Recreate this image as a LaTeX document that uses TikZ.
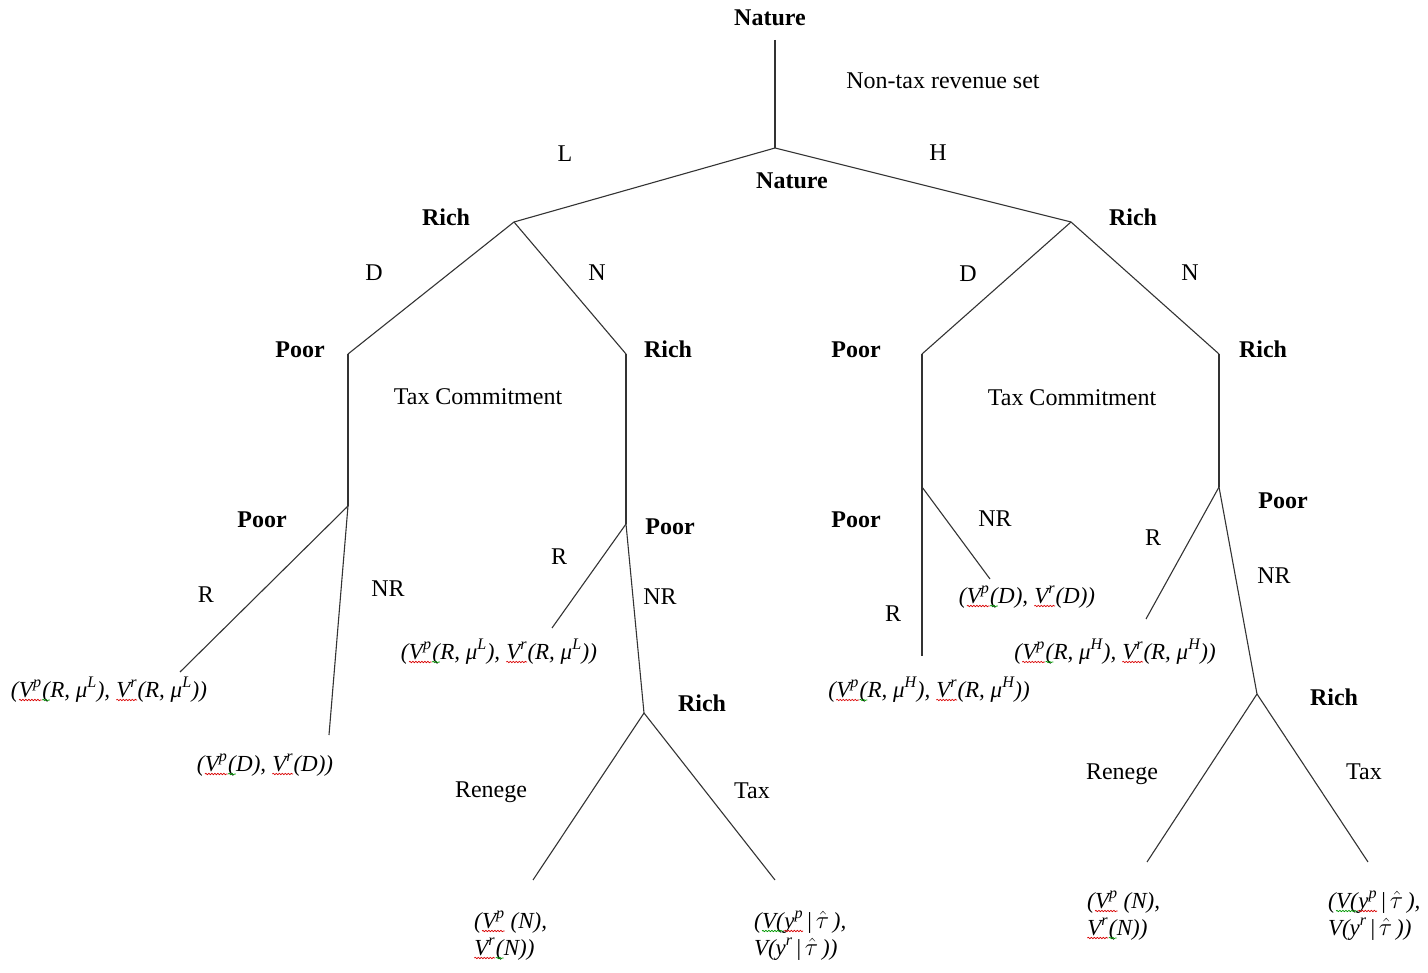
\documentclass[tikz,border=0pt]{standalone}
\usepackage{fontspec}
\setmainfont{Liberation Serif}
\usetikzlibrary{decorations.pathmorphing}

% wavy proofing underline beneath a piece of text
\newcommand\wavyline[2]{\tikz[baseline=(w.base),x=1cm,y=1cm]{%
  \node[inner sep=0pt,outer sep=0pt,anchor=base] (w) {#2};%
  \draw[#1,line width=0.7pt,decorate,decoration={snake,amplitude=0.7pt,segment length=3pt}]
    ([yshift=-3pt]w.base west) -- ([yshift=-3pt]w.base east);}}
\newcommand\rw[1]{\wavyline{red!85!black}{#1}}
\newcommand\gw[1]{\wavyline{green!60!black}{#1}}
\newcommand\sps[1]{\textsuperscript{#1}}
\newcommand\that{\,$\hat{\tau}$\,}

\begin{document}
\begin{tikzpicture}[x=1pt,y=-1pt,
  txt/.style={inner sep=0pt,outer sep=0pt,anchor=base,font=\fontsize{24}{26}\selectfont},
  player/.style={txt,font=\fontsize{24}{26}\selectfont\bfseries},
  pay/.style={txt,font=\fontsize{23}{27}\selectfont\itshape},
  paylines/.style={pay,anchor=base west,align=left},
  branch/.style={line width=1.1pt,draw=black!80}]
\useasboundingbox (0,0) rectangle (1428,973);

% decision points
\coordinate (top) at (775,40);
\coordinate (nat) at (775,148);
\coordinate (richL) at (514,222);
\coordinate (richR) at (1071,222);
\coordinate (poorLD) at (348,354);
\coordinate (richLN) at (626,354);
\coordinate (poorRD) at (922,354);
\coordinate (richRN) at (1219,354);
\coordinate (poorLDc) at (348,506);
\coordinate (poorLNc) at (626,524);
\coordinate (poorRDc) at (922,487);
\coordinate (poorRNc) at (1219,487);
\coordinate (richLt) at (644,713);
\coordinate (richRt) at (1257,694);

% terminal ends
\coordinate (eLR) at (180,672);
\coordinate (eLNR) at (329,735);
\coordinate (eNR) at (552,628);
\coordinate (eLren) at (533,880);
\coordinate (eLtax) at (775,880);
\coordinate (eRNR) at (990,579);
\coordinate (eRR) at (922,656);
\coordinate (eRNr) at (1146,619);
\coordinate (eRren) at (1147,862);
\coordinate (eRtax) at (1368,862);

% branches
\draw[branch] (top) -- (nat);
\draw[branch] (nat) -- (richL);
\draw[branch] (nat) -- (richR);
\draw[branch] (richL) -- (poorLD);
\draw[branch] (richL) -- (richLN);
\draw[branch] (richR) -- (poorRD);
\draw[branch] (richR) -- (richRN);
\draw[branch] (poorLD) -- (poorLDc);
\draw[branch] (richLN) -- (poorLNc);
\draw[branch] (poorRD) -- (poorRDc);
\draw[branch] (richRN) -- (poorRNc);
\draw[branch] (poorLDc) -- (eLR);
\draw[branch] (poorLDc) -- (eLNR);
\draw[branch] (poorLNc) -- (eNR);
\draw[branch] (poorLNc) -- (richLt);
\draw[branch] (richLt) -- (eLren);
\draw[branch] (richLt) -- (eLtax);
\draw[branch] (poorRDc) -- (eRNR);
\draw[branch] (poorRDc) -- (eRR);
\draw[branch] (poorRNc) -- (eRNr);
\draw[branch] (poorRNc) -- (richRt);
\draw[branch] (richRt) -- (eRren);
\draw[branch] (richRt) -- (eRtax);

% players
\node[player] (pNat0) at (770,26) {Nature};
\node[player] (pNat1) at (792,189) {Nature};
\node[player] (pRichL) at (446,226) {Rich};
\node[player] (pRichR) at (1133,226) {Rich};
\node[player] (pPoorLD) at (300,358) {Poor};
\node[player] (pRichLN) at (668,358) {Rich};
\node[player] (pPoorRD) at (856,358) {Poor};
\node[player] (pRichRN) at (1263,358) {Rich};
\node[player] (pPoorLDc) at (262,527) {Poor};
\node[player] (pPoorLNc) at (670,535) {Poor};
\node[player] (pPoorRDc) at (856,527) {Poor};
\node[player] (pPoorRNc) at (1283,509) {Poor};
\node[player] (pRichLt) at (702,711) {Rich};
\node[player] (pRichRt) at (1334,705) {Rich};

% moves and stage notes
\node[txt] (tNon) at (943,89) {Non-tax revenue set};
\node[txt] (tL) at (565,162) {L};
\node[txt] (tH) at (938,161) {H};
\node[txt] (tDL) at (374,281) {D};
\node[txt] (tNL) at (597,281) {N};
\node[txt] (tDR) at (968,282) {D};
\node[txt] (tNR) at (1190,281) {N};
\node[txt] (tTCL) at (478,405) {Tax Commitment};
\node[txt] (tTCR) at (1072,406) {Tax Commitment};
\node[txt] (tR1) at (206,602) {R};
\node[txt] (tNR1) at (388,596) {NR};
\node[txt] (tR2) at (559,565) {R};
\node[txt] (tNR2) at (660,604) {NR};
\node[txt] (tRen1) at (491,797) {Renege};
\node[txt] (tTax1) at (752,798) {Tax};
\node[txt] (tNR3) at (995,526) {NR};
\node[txt] (tR3) at (893,621) {R};
\node[txt] (tR4) at (1153,546) {R};
\node[txt] (tNR4) at (1274,583) {NR};
\node[txt] (tRen2) at (1122,779) {Renege};
\node[txt] (tTax2) at (1364,779) {Tax};

% payoffs
\node[pay] (uLR) at (109,697) {(\rw{V\sps{p}}\gw{(}R, μ\sps{L}), \rw{V\sps{r}}(R, μ\sps{L}))};
\node[pay] (uLD) at (265,771) {(\rw{V\sps{p}}\gw{(}D), \rw{V\sps{r}}(D))};
\node[pay] (uLNR) at (499,659) {(\rw{V\sps{p}}\gw{(}R, μ\sps{L}), \rw{V\sps{r}}(R, μ\sps{L}))};
\node[paylines] (uLren) at (474,955) {(\rw{V\sps{p}} (N),\\\rw{V\sps{r}}\gw{(}N))};
\node[paylines] (uLtax) at (754,955) {(\gw{V(}\rw{y\sps{p}}\,\textup{|}\that),\\V(y\sps{r}\,\textup{|}\that))};
\node[pay] (uRD) at (1027,603) {(\rw{V\sps{p}}\gw{(}D), \rw{V\sps{r}}(D))};
\node[pay] (uRR) at (929,697) {(\rw{V\sps{p}}\gw{(}R, μ\sps{H}), \rw{V\sps{r}}(R, μ\sps{H}))};
\node[pay] (uRNR) at (1115,659) {(\rw{V\sps{p}}\gw{(}R, μ\sps{H}), \rw{V\sps{r}}(R, μ\sps{H}))};
\node[paylines] (uRren) at (1087,935) {(\rw{V\sps{p}} (N),\\\rw{V\sps{r}}\gw{(}N))};
\node[paylines] (uRtax) at (1328,935) {(\gw{V(}\rw{y\sps{p}}\,\textup{|}\that),\\V(y\sps{r}\,\textup{|}\that))};
\end{tikzpicture}
\end{document}
